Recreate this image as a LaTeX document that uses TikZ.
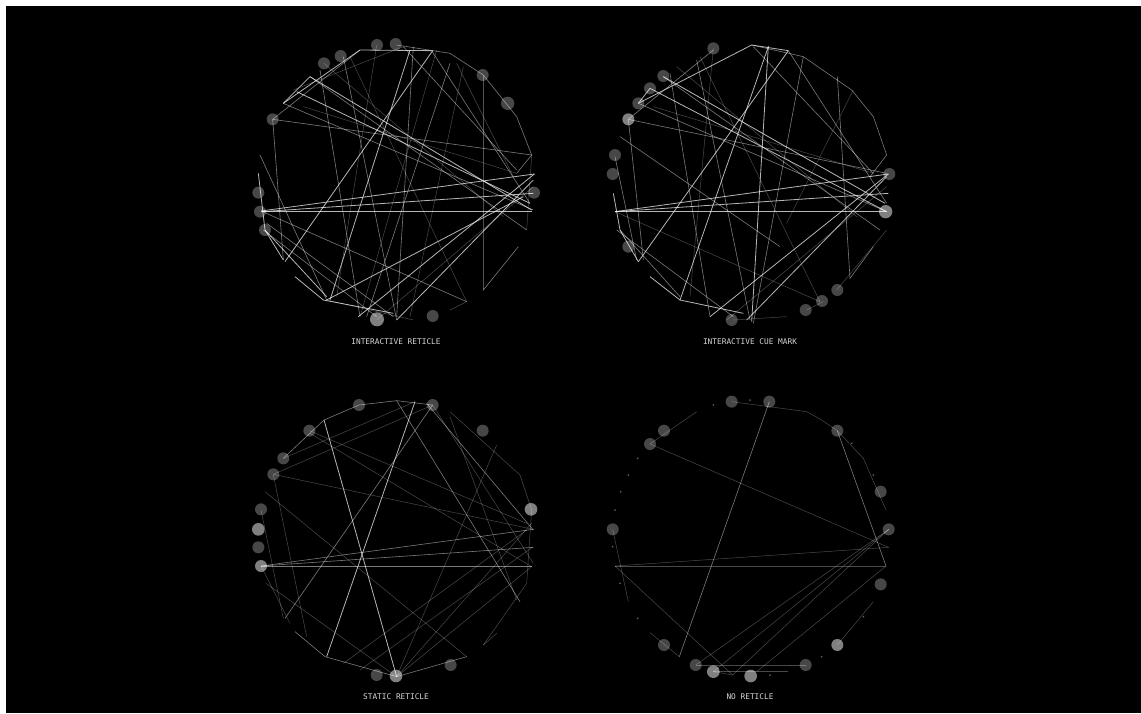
\documentclass[tikz,border=0pt]{standalone}
\usepackage{fontspec}
\setmonofont{DejaVu Sans Mono}
\usepackage{tikz}
\usepackage{xcolor}
\definecolor{chordwhite}{HTML}{F4F4F4}
\definecolor{labelgray}{HTML}{D6D6D6}
\definecolor{cuegray}{HTML}{FFFFFF}

\begin{document}
\begin{tikzpicture}[x=1pt, y=-1pt,
    chordhi/.style={draw=chordwhite, line width=0.8pt, opacity=0.75},
    chordmid/.style={draw=chordwhite, line width=0.6pt, opacity=0.5},
    chordlo/.style={draw=chordwhite, line width=0.5pt, opacity=0.3},
    cue/.style={fill=cuegray, fill opacity=0.28},
    cuehi/.style={fill=cuegray, fill opacity=0.5},
    speck/.style={fill=cuegray, fill opacity=0.35},
    every node/.style={font=\ttfamily\fontsize{7.8}{9}\selectfont, text=labelgray}]
  \useasboundingbox (0,0) rectangle (1141,713);
  \fill[white] (0,0) rectangle (1141,713);
  \fill[black] (6,6) rectangle (1141,713);

  % interactive reticle
  \begin{scope}[shift={(250,30)}, scale=1/3]
  \draw[chordhi] (33,543) -- (845,543);
  \draw[chordhi] (33,543) -- (853,432);
  \draw[chordhi] (35,545) -- (850,490);
  \draw[chordhi] (105,695) -- (548,62);
  \draw[chordhi] (100,220) -- (330,60) -- (548,62);
  \draw[chordhi] (100,220) -- (180,140);
  \draw[chordhi] (180,140) -- (845,540);
  \draw[chordhi] (140,185) -- (840,520);
  \draw[chordhi] (325,860) -- (853,432);
  \draw[chordhi] (440,870) -- (850,450);
  \draw[chordhi] (230,810) -- (820,500);
  \draw[chordhi] (135,740) -- (220,810) -- (430,850);
  \draw[chordhi] (25,430) -- (45,600) -- (100,690);
  \draw[chordhi] (240,810) -- (480,60);
  \draw[chordhi] (45,600) -- (230,800);
  \draw[chordmid] (68,268) -- (845,375);
  \draw[chordmid] (68,268) -- (100,690);
  \draw[chordmid] (30,375) -- (230,810);
  \draw[chordmid] (210,120) -- (330,860);
  \draw[chordmid] (280,80) -- (440,870);
  \draw[chordmid] (700,135) -- (700,780) -- (805,650);
  \draw[chordmid] (440,45) -- (600,70) -- (700,135) -- (800,260) -- (845,375) -- (800,430);
  \draw[chordmid] (50,580) -- (430,860);
  \draw[chordmid] (40,600) -- (380,860);
  \draw[chordmid] (180,140) -- (830,600);
  \draw[chordmid] (600,100) -- (350,860);
  \draw[chordmid] (490,50) -- (440,860);
  \draw[chordmid] (545,62) -- (840,520);
  \draw[chordmid] (460,50) -- (800,420);
  \draw[chordmid] (68,268) -- (330,60);
  \draw[chordmid] (100,220) -- (850,540);
  \draw[chordmid] (33,543) -- (650,815);
  \draw[chordlo] (300,80) -- (650,815);
  \draw[chordlo] (600,840) -- (650,815);
  \draw[chordlo] (845,375) -- (830,600);
  \draw[chordlo] (230,810) -- (490,870);
  \draw[chordlo] (620,100) -- (790,440);
  \draw[chordlo] (130,180) -- (460,50);
  \draw[chordlo] (160,230) -- (800,430);
  \draw[chordlo] (380,870) -- (850,470);
  \draw[chordlo] (222,100) -- (760,560);
  \draw[chordlo] (380,45) -- (260,800);
  \draw[chordlo] (560,60) -- (330,860);
  \draw[chordlo] (640,110) -- (480,860);
  \fill[cue] (381,45) circle (18);
  \fill[cue] (437,42) circle (18);
  \fill[cue] (272,78) circle (18);
  \fill[cue] (222,100) circle (18);
  \fill[cue] (698,135) circle (18);
  \fill[cue] (773,220) circle (20);
  \fill[cue] (68,268) circle (18);
  \fill[cue] (25,488) circle (18);
  \fill[cue] (30,545) circle (18);
  \fill[cue] (45,600) circle (18);
  \fill[cue] (852,488) circle (18);
  \fill[cuehi] (381,868) circle (21);
  \fill[cue] (548,858) circle (18);
  \end{scope}

  % interactive cue mark
  \begin{scope}[shift={(600,30)}, scale=1/3]
  \draw[chordhi] (45,545) -- (860,545);
  \draw[chordhi] (45,545) -- (865,432);
  \draw[chordhi] (45,545) -- (865,490);
  \draw[chordhi] (115,695) -- (565,62);
  \draw[chordhi] (115,220) -- (455,45) -- (565,62);
  \draw[chordhi] (150,175) -- (115,220);
  \draw[chordhi] (150,175) -- (860,545);
  \draw[chordhi] (190,140) -- (855,520);
  \draw[chordhi] (330,860) -- (865,432);
  \draw[chordhi] (440,870) -- (860,440);
  \draw[chordhi] (240,810) -- (505,50);
  \draw[chordhi] (150,740) -- (240,810) -- (430,850);
  \draw[chordhi] (40,490) -- (60,600) -- (115,695);
  \draw[chordhi] (505,48) -- (455,875);
  \draw[chordmid] (85,268) -- (860,430);
  \draw[chordmid] (85,268) -- (130,690);
  \draw[chordmid] (60,320) -- (540,650);
  \draw[chordmid] (210,130) -- (330,860);
  \draw[chordmid] (290,90) -- (450,870);
  \draw[chordmid] (712,140) -- (750,745) -- (820,650);
  \draw[chordmid] (455,45) -- (610,80) -- (755,180) -- (820,260) -- (860,375) -- (810,440);
  \draw[chordmid] (45,380) -- (110,690);
  \draw[chordmid] (50,600) -- (400,860);
  \draw[chordmid] (190,140) -- (840,600);
  \draw[chordmid] (610,80) -- (460,880);
  \draw[chordmid] (565,62) -- (860,520);
  \draw[chordmid] (460,50) -- (820,430);
  \draw[chordmid] (85,268) -- (340,60);
  \draw[chordmid] (60,600) -- (240,800);
  \draw[chordmid] (115,220) -- (860,545);
  \draw[chordlo] (300,80) -- (660,815);
  \draw[chordlo] (760,180) -- (560,580);
  \draw[chordlo] (380,870) -- (860,470);
  \draw[chordlo] (620,840) -- (670,815);
  \draw[chordlo] (160,230) -- (820,430);
  \draw[chordlo] (400,870) -- (560,860);
  \draw[chordlo] (710,780) -- (860,600);
  \draw[chordlo] (230,110) -- (770,560);
  \draw[chordlo] (340,55) -- (270,800);
  \draw[chordlo] (45,545) -- (660,815);
  \fill[cue] (340,55) circle (18);
  \fill[cue] (190,138) circle (18);
  \fill[cue] (150,175) circle (18);
  \fill[cue] (115,220) circle (18);
  \fill[cuehi] (85,268) circle (18);
  \fill[cue] (45,375) circle (18);
  \fill[cue] (38,432) circle (18);
  \fill[cue] (85,650) circle (18);
  \fill[cue] (868,432) circle (18);
  \fill[cuehi] (857,545) circle (20);
  \fill[cue] (712,780) circle (18);
  \fill[cue] (666,813) circle (18);
  \fill[cue] (617,840) circle (18);
  \fill[cue] (395,870) circle (18);
  \end{scope}

  % static reticle
  \begin{scope}[shift={(250,390)}, scale=1/3]
  \draw[chordmid] (33,528) -- (845,528);
  \draw[chordmid] (33,528) -- (850,472);
  \draw[chordmid] (33,528) -- (850,418);
  \draw[chordmid] (548,45) -- (105,685);
  \draw[chordhi] (495,35) -- (230,800);
  \draw[chordhi] (222,90) -- (440,860);
  \draw[chordmid] (440,32) -- (810,635);
  \draw[chordlo] (70,253) -- (850,418);
  \draw[chordlo] (180,130) -- (845,530);
  \draw[chordlo] (45,305) -- (650,800);
  \draw[chordmid] (530,40) -- (850,420);
  \draw[chordlo] (740,165) -- (440,860);
  \draw[chordlo] (845,400) -- (440,860);
  \draw[chordlo] (830,420) -- (280,820);
  \draw[chordlo] (600,65) -- (810,255) -- (845,360) -- (830,580) -- (700,765);
  \draw[chordmid] (100,205) -- (222,90) -- (327,45) -- (440,32) -- (548,45);
  \draw[chordlo] (33,360) -- (100,685);
  \draw[chordlo] (70,255) -- (170,740);
  \draw[chordmid] (135,725) -- (225,800) -- (440,860) -- (650,800);
  \draw[chordlo] (700,765) -- (740,730);
  \draw[chordlo] (178,122) -- (830,400);
  \draw[chordlo] (100,205) -- (495,35);
  \draw[chordlo] (70,253) -- (548,45);
  \draw[chordlo] (48,580) -- (440,860);
  \draw[chordlo] (845,530) -- (440,860);
  \draw[chordlo] (850,470) -- (330,840);
  \draw[chordlo] (33,528) -- (120,700);
  \draw[chordlo] (548,45) -- (850,520);
  \draw[chordlo] (600,80) -- (800,630);
  \fill[cue] (327,45) circle (18);
  \fill[cue] (548,45) circle (18);
  \fill[cue] (178,122) circle (18);
  \fill[cue] (698,122) circle (18);
  \fill[cue] (100,205) circle (18);
  \fill[cue] (70,253) circle (18);
  \fill[cue] (33,358) circle (18);
  \fill[cuehi] (25,418) circle (19);
  \fill[cue] (25,472) circle (18);
  \fill[cuehi] (33,528) circle (18);
  \fill[cuehi] (843,358) circle (19);
  \fill[cue] (602,825) circle (18);
  \fill[cue] (380,855) circle (18);
  \fill[cuehi] (438,858) circle (19);
  \end{scope}

  % no reticle
  \begin{scope}[shift={(600,390)}, scale=1/3]
  \draw[chordlo] (45,528) -- (858,528);
  \draw[chordlo] (45,528) -- (866,472);
  \draw[chordmid] (508,35) -- (238,800);
  \draw[chordlo] (150,162) -- (866,472);
  \draw[chordmid] (712,122) -- (858,528);
  \draw[chordlo] (38,418) -- (85,635);
  \draw[chordlo] (45,528) -- (398,855);
  \draw[chordlo] (287,825) -- (866,418);
  \draw[chordlo] (340,845) -- (866,418);
  \draw[chordlo] (398,855) -- (866,418);
  \draw[chordlo] (470,845) -- (858,528);
  \draw[chordlo] (287,825) -- (617,825);
  \draw[chordlo] (340,845) -- (565,845);
  \draw[chordlo] (340,845) -- (398,855);
  \draw[chordlo] (150,162) -- (290,65);
  \draw[chordlo] (395,35) -- (620,65) -- (665,90) -- (712,122) -- (790,205) -- (858,360);
  \draw[chordlo] (712,765) -- (820,635);
  \draw[chordlo] (150,728) -- (238,800);
  \foreach \sx/\sy in {340/45, 450/30, 113/205, 85/255, 62/305, 45/360, 38/470,
      60/580, 113/685, 665/800, 510/855, 755/160, 820/255, 790/680}
    \fill[speck] (\sx,\sy) circle (3);
  \fill[cue] (395,35) circle (18);
  \fill[cue] (508,35) circle (18);
  \fill[cue] (192,122) circle (18);
  \fill[cue] (150,162) circle (18);
  \fill[cue] (712,122) circle (18);
  \fill[cue] (842,305) circle (18);
  \fill[cue] (866,418) circle (18);
  \fill[cue] (38,418) circle (18);
  \fill[cue] (842,583) circle (18);
  \fill[cuehi] (712,765) circle (18);
  \fill[cue] (192,765) circle (18);
  \fill[cue] (287,825) circle (18);
  \fill[cuehi] (340,845) circle (19);
  \fill[cuehi] (452,858) circle (19);
  \fill[cue] (617,825) circle (18);
  \end{scope}

  \node (lbl-ir) at (396,342) {INTERACTIVE RETICLE};
  \node (lbl-cm) at (750,342) {INTERACTIVE CUE MARK};
  \node (lbl-sr) at (396,697) {STATIC RETICLE};
  \node (lbl-nr) at (750,697) {NO RETICLE};
\end{tikzpicture}
\end{document}
